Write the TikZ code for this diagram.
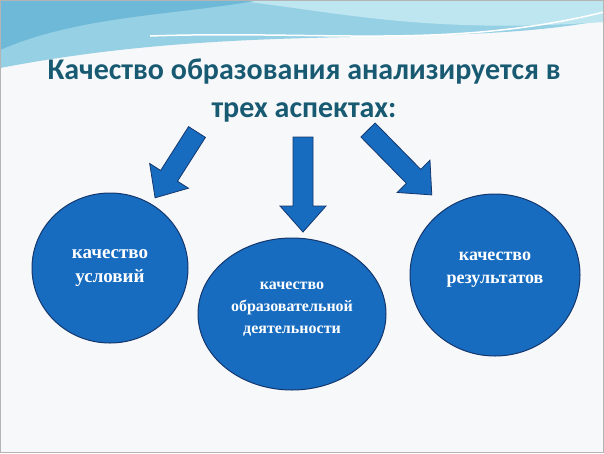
\documentclass[tikz,border=0pt]{standalone}
\usepackage{fontspec}
\usetikzlibrary{shapes.geometric}
\setmainfont{Liberation Serif}
\newfontfamily\titlefont{Carlito}
\definecolor{bg}{RGB}{246,248,250}
\definecolor{wa}{RGB}{150,208,228}
\definecolor{wb}{RGB}{190,230,240}
\definecolor{wc}{RGB}{110,185,215}
\definecolor{frm}{RGB}{180,180,180}
\definecolor{ttl}{RGB}{25,90,115}
\definecolor{bl}{RGB}{23,108,192}
\definecolor{edge}{RGB}{20,55,110}
\begin{document}
\begin{tikzpicture}[x=1pt,y=-1pt,
  blob/.style={draw=edge,line width=1pt,fill=bl},
  lab/.style={text=white,align=center},
  arr/.style={draw=edge,line width=0.8pt,fill=bl}]
\useasboundingbox (0,0) rectangle (604,453);
\fill[bg] (0,0) rectangle (604,453);
% waves
\fill[wa] (0,0) -- (604,0) -- (604,20) .. controls (450,50) and (250,20) .. (0,68) -- cycle;
\fill[wb] (230,0) .. controls (330,10) and (420,35) .. (604,22) -- (604,0) -- cycle;
\fill[wc] (0,0) -- (260,0) .. controls (180,15) and (80,15) .. (0,50) -- cycle;
\draw[white,line width=1.5pt] (150,36) .. controls (320,30) and (450,50) .. (604,12);
\draw[frm,line width=1pt] (0.5,0.5) rectangle (603.5,452.5);
% title
\node[font=\titlefont\bfseries\fontsize{30}{33}\selectfont,text=ttl] (t1) at (304,72) {Качество образования анализируется в};
\node[font=\titlefont\bfseries\fontsize{30}{33}\selectfont,text=ttl] (t2) at (304,112) {трех аспектах:};
% arrows
\foreach \sx/\sy/\ang/\len in {197/132/122.5/78, 303/137/90/95, 368/130/45.5/91}{
  \draw[arr,shift={(\sx,\sy)},rotate=-\ang] (0,-10) -- (\len-26,-10) -- (\len-26,-23) -- (\len,0) -- (\len-26,23) -- (\len-26,10) -- (0,10) -- cycle;
}
% ellipses
\node[blob,ellipse,minimum width=156pt,minimum height=150pt] (e1) at (110,268) {};
\node[blob,ellipse,minimum width=170pt,minimum height=162pt] (e3) at (495,275) {};
\node[blob,ellipse,minimum width=188pt,minimum height=152pt] (e2) at (292,314) {};
\node[lab,font=\bfseries\fontsize{19}{24}\selectfont] (l1) at (e1) {качество\\условий};
\node[lab,font=\bfseries\fontsize{16}{22}\selectfont] (l2) at ([yshift=5]e2.center) {качество\\образовательной\\деятельности};
\node[lab,font=\bfseries\fontsize{18}{23}\selectfont] (l3) at ([yshift=5]e3.center) {качество\\результатов};
\end{tikzpicture}
\end{document}
